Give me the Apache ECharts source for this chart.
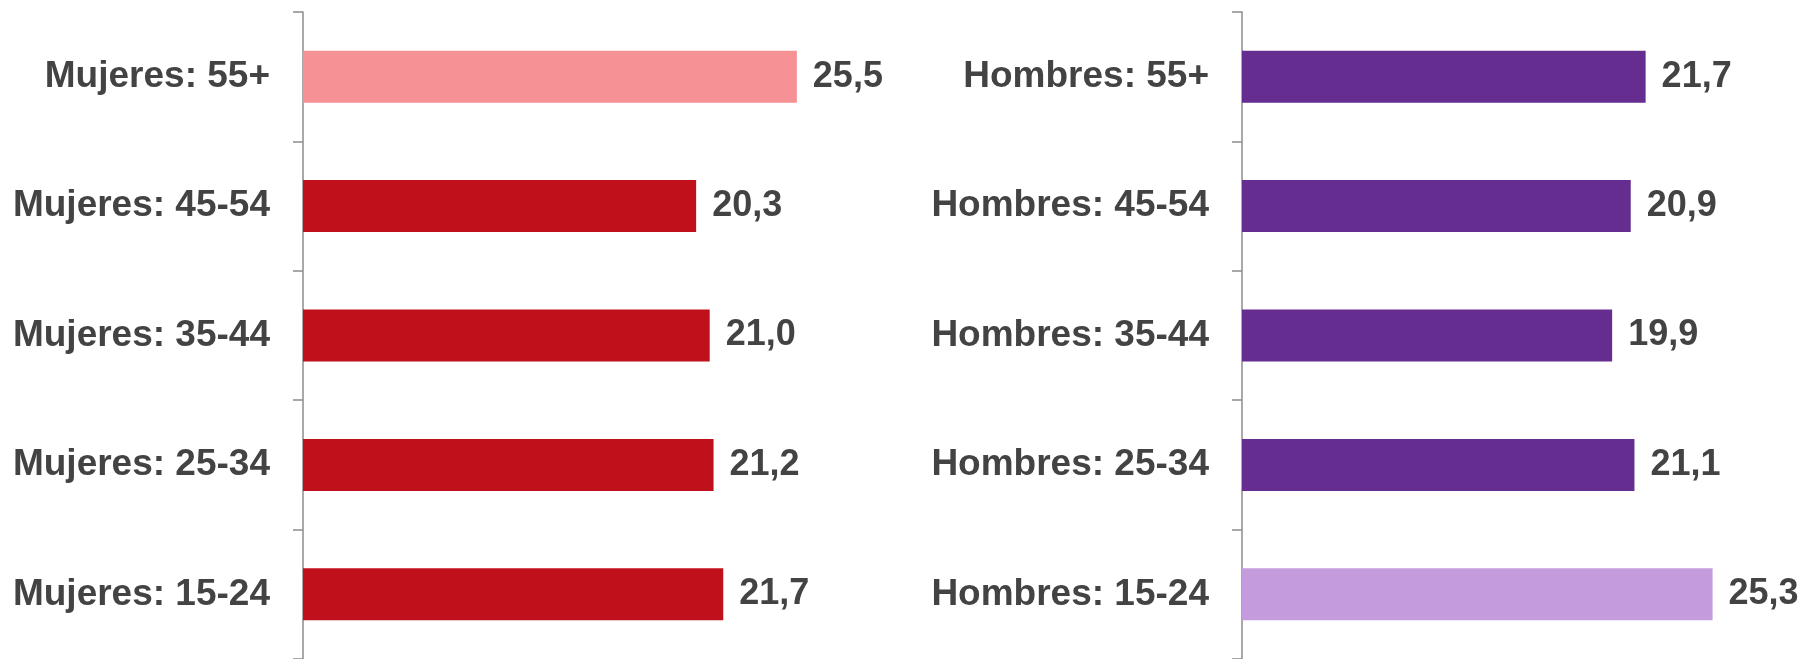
<!DOCTYPE html>
<html>
<head>
<meta charset="utf-8">
<script src="https://cdn.jsdelivr.net/npm/echarts@6/dist/echarts.min.js"></script>
<style>
html,body{margin:0;padding:0;background:#fff;}
#chart{width:1806px;height:659px;}
</style>
</head>
<body>
<div id="chart"></div>
<script>
// Data (top to bottom)
const womenCategories = ['Mujeres: 55+', 'Mujeres: 45-54', 'Mujeres: 35-44', 'Mujeres: 25-34', 'Mujeres: 15-24'];
const womenValues = [25.5, 20.3, 21.0, 21.2, 21.7];
const menCategories = ['Hombres: 55+', 'Hombres: 45-54', 'Hombres: 35-44', 'Hombres: 25-34', 'Hombres: 15-24'];
const menValues = [21.7, 20.9, 19.9, 21.1, 25.3];

const womenColors = ['#F69195', '#C0101B', '#C0101B', '#C0101B', '#C0101B'];
const menColors = ['#652D8F', '#652D8F', '#652D8F', '#652D8F', '#C49CDE'];

const textColor = '#434343';
const font = '"Liberation Sans", Arial, sans-serif';
const axisGray = '#8c8c8c';

function fmt(v) { return v.toFixed(1).replace('.', ','); }

function yAxisFor(idx, cats) {
  return {
    type: 'category', gridIndex: idx, data: cats, inverse: true,
    axisLine: { show: true, lineStyle: { color: axisGray, width: 1.5 } },
    axisTick: { show: true, length: 10, lineStyle: { color: axisGray, width: 1.5 } },
    axisLabel: { color: textColor, fontFamily: font, fontWeight: 'bold', fontSize: 37, margin: 33, padding: [2, 0, 0, 0] }
  };
}
function xAxisFor(idx) {
  return {
    type: 'value', gridIndex: idx, min: 0, max: 30,
    show: false, splitLine: { show: false }
  };
}
function seriesFor(idx, vals, colors) {
  return {
    type: 'bar', xAxisIndex: idx, yAxisIndex: idx,
    barWidth: 52,
    data: vals.map((v, i) => ({ value: v, itemStyle: { color: colors[i] } })),
    label: {
      show: true, position: 'right', distance: 16,
      formatter: p => fmt(p.value),
      color: textColor, fontFamily: font, fontWeight: 'bold', fontSize: 36
    },
    animation: false
  };
}

const chart = echarts.init(document.getElementById('chart'), null, { renderer: 'canvas' });
chart.setOption({
  animation: false,
  backgroundColor: '#ffffff',
  grid: [
    { left: 303, width: 581, top: 12, bottom: 0 },
    { left: 1242, width: 558, top: 12, bottom: 0 }
  ],
  xAxis: [xAxisFor(0), xAxisFor(1)],
  yAxis: [yAxisFor(0, womenCategories), yAxisFor(1, menCategories)],
  series: [seriesFor(0, womenValues, womenColors), seriesFor(1, menValues, menColors)]
});
</script>
</body>
</html>
